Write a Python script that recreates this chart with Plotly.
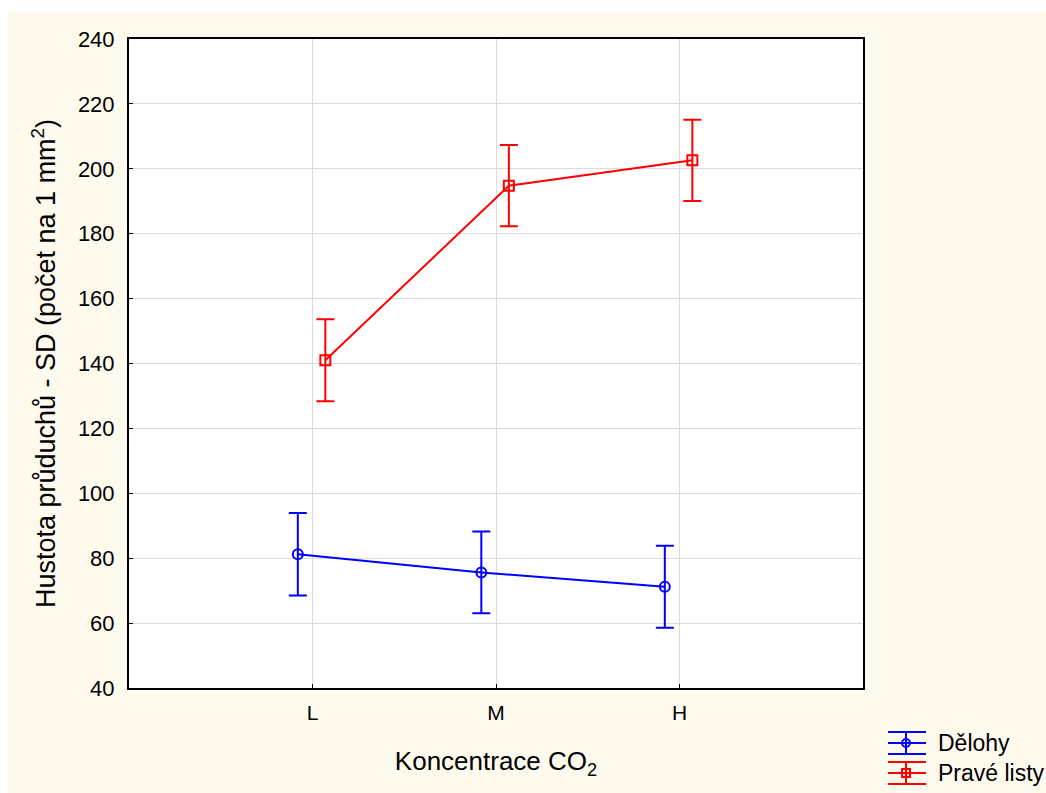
import plotly.graph_objects as go

categories = ["L", "M", "H"]
delohy_mean = [81.2, 75.6, 71.2]
delohy_sd = [12.7, 12.6, 12.6]
prave_mean = [141.0, 194.8, 202.6]
prave_sd = [12.6, 12.5, 12.5]
series_names = ["Dělohy", "Pravé listy"]
y_ticks = [40, 60, 80, 100, 120, 140, 160, 180, 200, 220, 240]

W, H = 1046, 793
L_, R_, T_, B_ = 129, 863, 39, 688  # plot area pixels


def px(x):
    return (x - L_) / (R_ - L_)


def py(y):
    return (B_ - y) / (B_ - T_)


BLUE = "#0000ff"
RED = "#ff0000"
FONT = "Liberation Sans, Arial, sans-serif"

xi = list(range(len(categories)))
fig = go.Figure()
fig.add_trace(go.Scatter(
    x=[v - 0.08 for v in xi], y=delohy_mean, name=series_names[0],
    mode="lines+markers",
    line=dict(color=BLUE, width=2),
    marker=dict(symbol="circle-open", size=10, color=BLUE, line=dict(width=2)),
    error_y=dict(type="data", array=delohy_sd, color=BLUE, thickness=2, width=9),
    showlegend=False,
))
fig.add_trace(go.Scatter(
    x=[v + 0.07 for v in xi], y=prave_mean, name=series_names[1],
    mode="lines+markers",
    line=dict(color=RED, width=2),
    marker=dict(symbol="square-open", size=10, color=RED, line=dict(width=2)),
    error_y=dict(type="data", array=prave_sd, color=RED, thickness=2, width=9),
    showlegend=False,
))

shapes = []
# white outer strips (top and left)
shapes.append(dict(type="rect", xref="paper", yref="paper",
                   x0=px(0), x1=px(W), y0=py(12), y1=py(-5),
                   fillcolor="white", line=dict(width=0), layer="below"))
shapes.append(dict(type="rect", xref="paper", yref="paper",
                   x0=px(-5), x1=px(8), y0=py(H + 5), y1=py(-5),
                   fillcolor="white", line=dict(width=0), layer="below"))

# custom legend
annotations = []
for color, yc, name, sym in [(BLUE, 743, series_names[0], "circle"),
                              (RED, 773, series_names[1], "square")]:
    for dy in (-11, 0, 11):
        shapes.append(dict(type="line", xref="paper", yref="paper",
                           x0=px(888), x1=px(926), y0=py(yc + dy), y1=py(yc + dy),
                           line=dict(color=color, width=2)))
    shapes.append(dict(type="line", xref="paper", yref="paper",
                       x0=px(906), x1=px(906), y0=py(yc - 11), y1=py(yc + 11),
                       line=dict(color=color, width=2)))
    shapes.append(dict(type="circle" if sym == "circle" else "rect",
                       xref="paper", yref="paper",
                       x0=px(902), x1=px(910), y0=py(yc + 4), y1=py(yc - 4),
                       fillcolor="rgba(0,0,0,0)", line=dict(color=color, width=2)))
    annotations.append(dict(xref="paper", yref="paper", x=px(936), y=py(yc),
                            xanchor="left", yanchor="middle", showarrow=False,
                            text=name, font=dict(family=FONT, size=23, color="black")))

fig.update_layout(
    width=W, height=H,
    margin=dict(l=L_, r=W - R_, t=T_, b=H - B_),
    paper_bgcolor="#fffaee",
    plot_bgcolor="white",
    font=dict(family=FONT, size=22, color="black"),
    shapes=shapes,
    annotations=annotations,
    showlegend=False,
)
fig.update_xaxes(
    range=[-1, 3], tickmode="array", tickvals=xi, ticktext=categories,
    showgrid=True, gridcolor="#dcdcdc", gridwidth=1,
    showline=True, linecolor="black", linewidth=2, mirror=True,
    ticks="inside", ticklen=4, tickcolor="black", tickwidth=1,
    zeroline=False, ticklabelstandoff=5,
    tickfont=dict(size=21),
    title=dict(text="Koncentrace CO<sub>2</sub>", font=dict(size=26), standoff=29),
)
fig.update_yaxes(
    range=[40, 240], tickmode="array", tickvals=y_ticks,
    showgrid=True, gridcolor="#dcdcdc", gridwidth=1,
    showline=True, linecolor="black", linewidth=2, mirror=True,
    ticks="inside", ticklen=4, tickcolor="black", tickwidth=1,
    zeroline=False, ticklabelstandoff=8,
    tickfont=dict(size=22),
    title=dict(text="Hustota průduchů - SD (počet na 1 mm<sup>2</sup>)",
               font=dict(size=27), standoff=14),
)

fig.write_html("out.html")
